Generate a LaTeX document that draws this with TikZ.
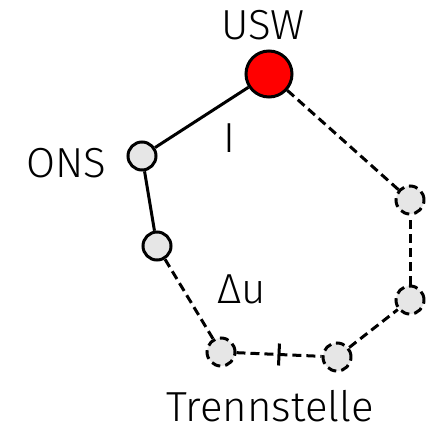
\documentclass[tikz,border=0pt]{standalone}
\usepackage{fontspec}
\setmainfont{Fira Sans}[UprightFont=* Light]
\definecolor{RootClr}{HTML}{FF0000}
\definecolor{NodeClr}{HTML}{E6E6E6}
\tikzset{
  knot/.style={circle,draw,line width=3pt,fill=NodeClr,minimum size=28pt,inner sep=0pt},
  root/.style={knot,fill=RootClr,minimum size=46pt},
  open/.style={dash pattern=on 9pt off 5pt},
  cut/.style={draw,solid,sloped,inner sep=0pt,minimum width=0pt,minimum height=22pt},
  lbl/.style={anchor=base,inner sep=0pt,font=\fontsize{42}{50}\selectfont}
}

\begin{document}
\begin{tikzpicture}[x=1pt,y=-1pt,line width=3pt]
\useasboundingbox (0,0) rectangle (427,432);

% stations
\node[root] (usw) at (269,74) {};
\node[knot] (ons) at (142,156) {};
\node[knot] (a) at (157,246) {};
\node[knot,open] (b) at (221,352) {};
\node[knot,open] (c) at (337,357) {};
\node[knot,open] (d) at (410,300) {};
\node[knot,open] (e) at (410,200) {};

% lines
\draw (usw) -- (ons);
\draw (ons) -- (a);
\draw[open] (a) -- (b);
\draw[open] (b) -- (c) node[cut,midway] (sep) {};
\draw[open] (c) -- (d);
\draw[open] (d) -- (e);
\draw[open] (e) -- (usw);

% labels
\node[lbl] (lusw) at (263,39) {USW};
\node[lbl] (lons) at (66,177) {ONS};
\node[lbl] (li) at (229,152) {I};
\node[lbl] (ldu) at (242,303) {Δu};
\node[lbl] (lsep) at (270,421) {Trennstelle};

\end{tikzpicture}
\end{document}
